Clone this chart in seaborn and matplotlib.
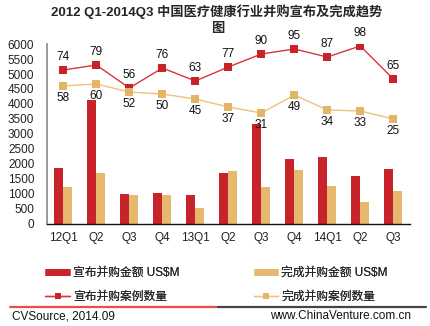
import matplotlib
matplotlib.use("Agg")
import matplotlib.pyplot as plt
from matplotlib.lines import Line2D
import seaborn as sns
import pandas as pd

sns.set_theme(style="white")
plt.rcParams['font.family'] = ['Liberation Sans', 'Noto Sans CJK SC', 'DejaVu Sans']
plt.rcParams['axes.unicode_minus'] = False

# Quarterly data, 2012Q1 - 2014Q3
periods = ["2012Q1", "2012Q2", "2012Q3", "2012Q4", "2013Q1", "2013Q2",
           "2013Q3", "2013Q4", "2014Q1", "2014Q2", "2014Q3"]
tick_labels = ["12Q1", "Q2", "Q3", "Q4", "13Q1", "Q2", "Q3", "Q4", "14Q1", "Q2", "Q3"]
announced_amount = [1870, 4140, 1000, 1020, 980, 1690, 3330, 2170, 2220, 1590, 1830]
completed_amount = [1230, 1690, 960, 980, 520, 1780, 1230, 1810, 1250, 720, 1100]
announced_count = [74, 79, 56, 76, 63, 77, 90, 95, 87, 98, 65]
completed_count = [58, 60, 52, 50, 45, 37, 31, 49, 34, 33, 25]

name_amt_a = "宣布并购金额 US$M"
name_amt_c = "完成并购金额 US$M"
name_cnt_a = "宣布并购案例数量"
name_cnt_c = "完成并购案例数量"

RED = "#C8222A"
GOLD = "#E6B96E"
RED_LINE = "#D8353D"
GOLD_LINE = "#EEC27A"

bars = pd.DataFrame({
    "period": periods * 2,
    "amount": announced_amount + completed_amount,
    "series": [name_amt_a] * len(periods) + [name_amt_c] * len(periods),
})
counts = pd.DataFrame({
    "period": periods * 2,
    "count": announced_count + completed_count,
    "series": [name_cnt_a] * len(periods) + [name_cnt_c] * len(periods),
})

fig = plt.figure(figsize=(4.3, 3.26), dpi=100)
ax = fig.add_axes([0.109, 0.313, 0.844, 0.552])

sns.barplot(data=bars, x="period", y="amount", hue="series", order=periods,
            palette=[RED, GOLD], width=0.55, gap=0, saturation=1,
            edgecolor="none", legend=False, ax=ax)

ax.set_ylim(0, 6000)
ax.set_yticks(range(0, 6001, 500))
ax.set_xlim(-0.5, len(periods) - 0.5)
ax.set_xticks(range(len(periods)))
ax.set_xticklabels(tick_labels, fontsize=8.5, color="#222222")
ax.tick_params(axis="y", labelsize=8.5, labelcolor="#222222", length=0, pad=9)
ax.tick_params(axis="x", length=0, pad=6)
ax.set_xlabel("")
ax.set_ylabel("")
for s in ["top", "right"]:
    ax.spines[s].set_visible(False)
ax.spines["left"].set_color("#888888")
ax.spines["left"].set_linewidth(1.2)
ax.spines["bottom"].set_color("#111111")
ax.spines["bottom"].set_linewidth(1.0)

# Deal counts on a hidden secondary scale
ax2 = ax.twinx()
sns.lineplot(data=counts, x="period", y="count", hue="series",
             palette=[RED_LINE, GOLD_LINE], marker="s", markersize=5.5,
             markeredgewidth=0, linewidth=1.0, legend=False, ax=ax2)
for ln, col in zip(ax2.lines, [RED, "#E5B567"]):
    ln.set_markerfacecolor(col)
ax2.set_ylim(-80, 100)
ax2.set_xlim(-0.5, len(periods) - 0.5)
ax2.axis("off")

for i, v in enumerate(announced_count):
    ax2.annotate(str(v), (i, v), xytext=(0, 5), textcoords="offset points",
                 ha="center", va="bottom", fontsize=8.5, color="#111111")
for i, v in enumerate(completed_count):
    ax2.annotate(str(v), (i, v), xytext=(0, -4), textcoords="offset points",
                 ha="center", va="top", fontsize=8.5, color="#111111")

fig.text(0.505, 0.963, "2012 Q1-2014Q3 中国医疗健康行业并购宣布及完成趋势",
         ha="center", va="center", fontsize=9.5, fontweight="bold")
fig.text(0.505, 0.91, "图", ha="center", va="center", fontsize=9.5, fontweight="bold")

# Legend entries, laid out in two rows and two columns
entries = [
    (Line2D([], [], color=RED, lw=5, solid_capstyle="butt"), name_amt_a, 0.105, 0.163),
    (Line2D([], [], color=GOLD, lw=5, solid_capstyle="butt"), name_amt_c, 0.590, 0.163),
    (Line2D([], [], color=RED_LINE, lw=1, marker="s", markersize=4,
            markerfacecolor=RED, markeredgewidth=0), name_cnt_a, 0.105, 0.090),
    (Line2D([], [], color=GOLD_LINE, lw=1, marker="s", markersize=4,
            markerfacecolor="#E5B567", markeredgewidth=0), name_cnt_c, 0.590, 0.090),
]
for h, lab, x, y in entries:
    leg = fig.legend([h], [lab], loc="center left", bbox_to_anchor=(x, y),
                     frameon=False, fontsize=8.5, handlelength=2.1,
                     handletextpad=0.25, borderpad=0, borderaxespad=0)
    fig.add_artist(leg)

# Footer rule and source notes
fig.add_artist(Line2D([0.023, 0.507], [0.058, 0.058], color="#EF4B4B", lw=1.6,
                      transform=fig.transFigure))
fig.add_artist(Line2D([0.507, 0.99], [0.058, 0.058], color="#444444", lw=1.6,
                      transform=fig.transFigure))
fig.text(0.028, 0.03, "CVSource, 2014.09", ha="left", va="center", fontsize=8.5,
         color="#111111")
fig.text(0.955, 0.03, "www.ChinaVenture.com.cn", ha="right", va="center",
         fontsize=8.5, color="#111111")

fig.savefig("out.png", dpi=100, facecolor="white")
